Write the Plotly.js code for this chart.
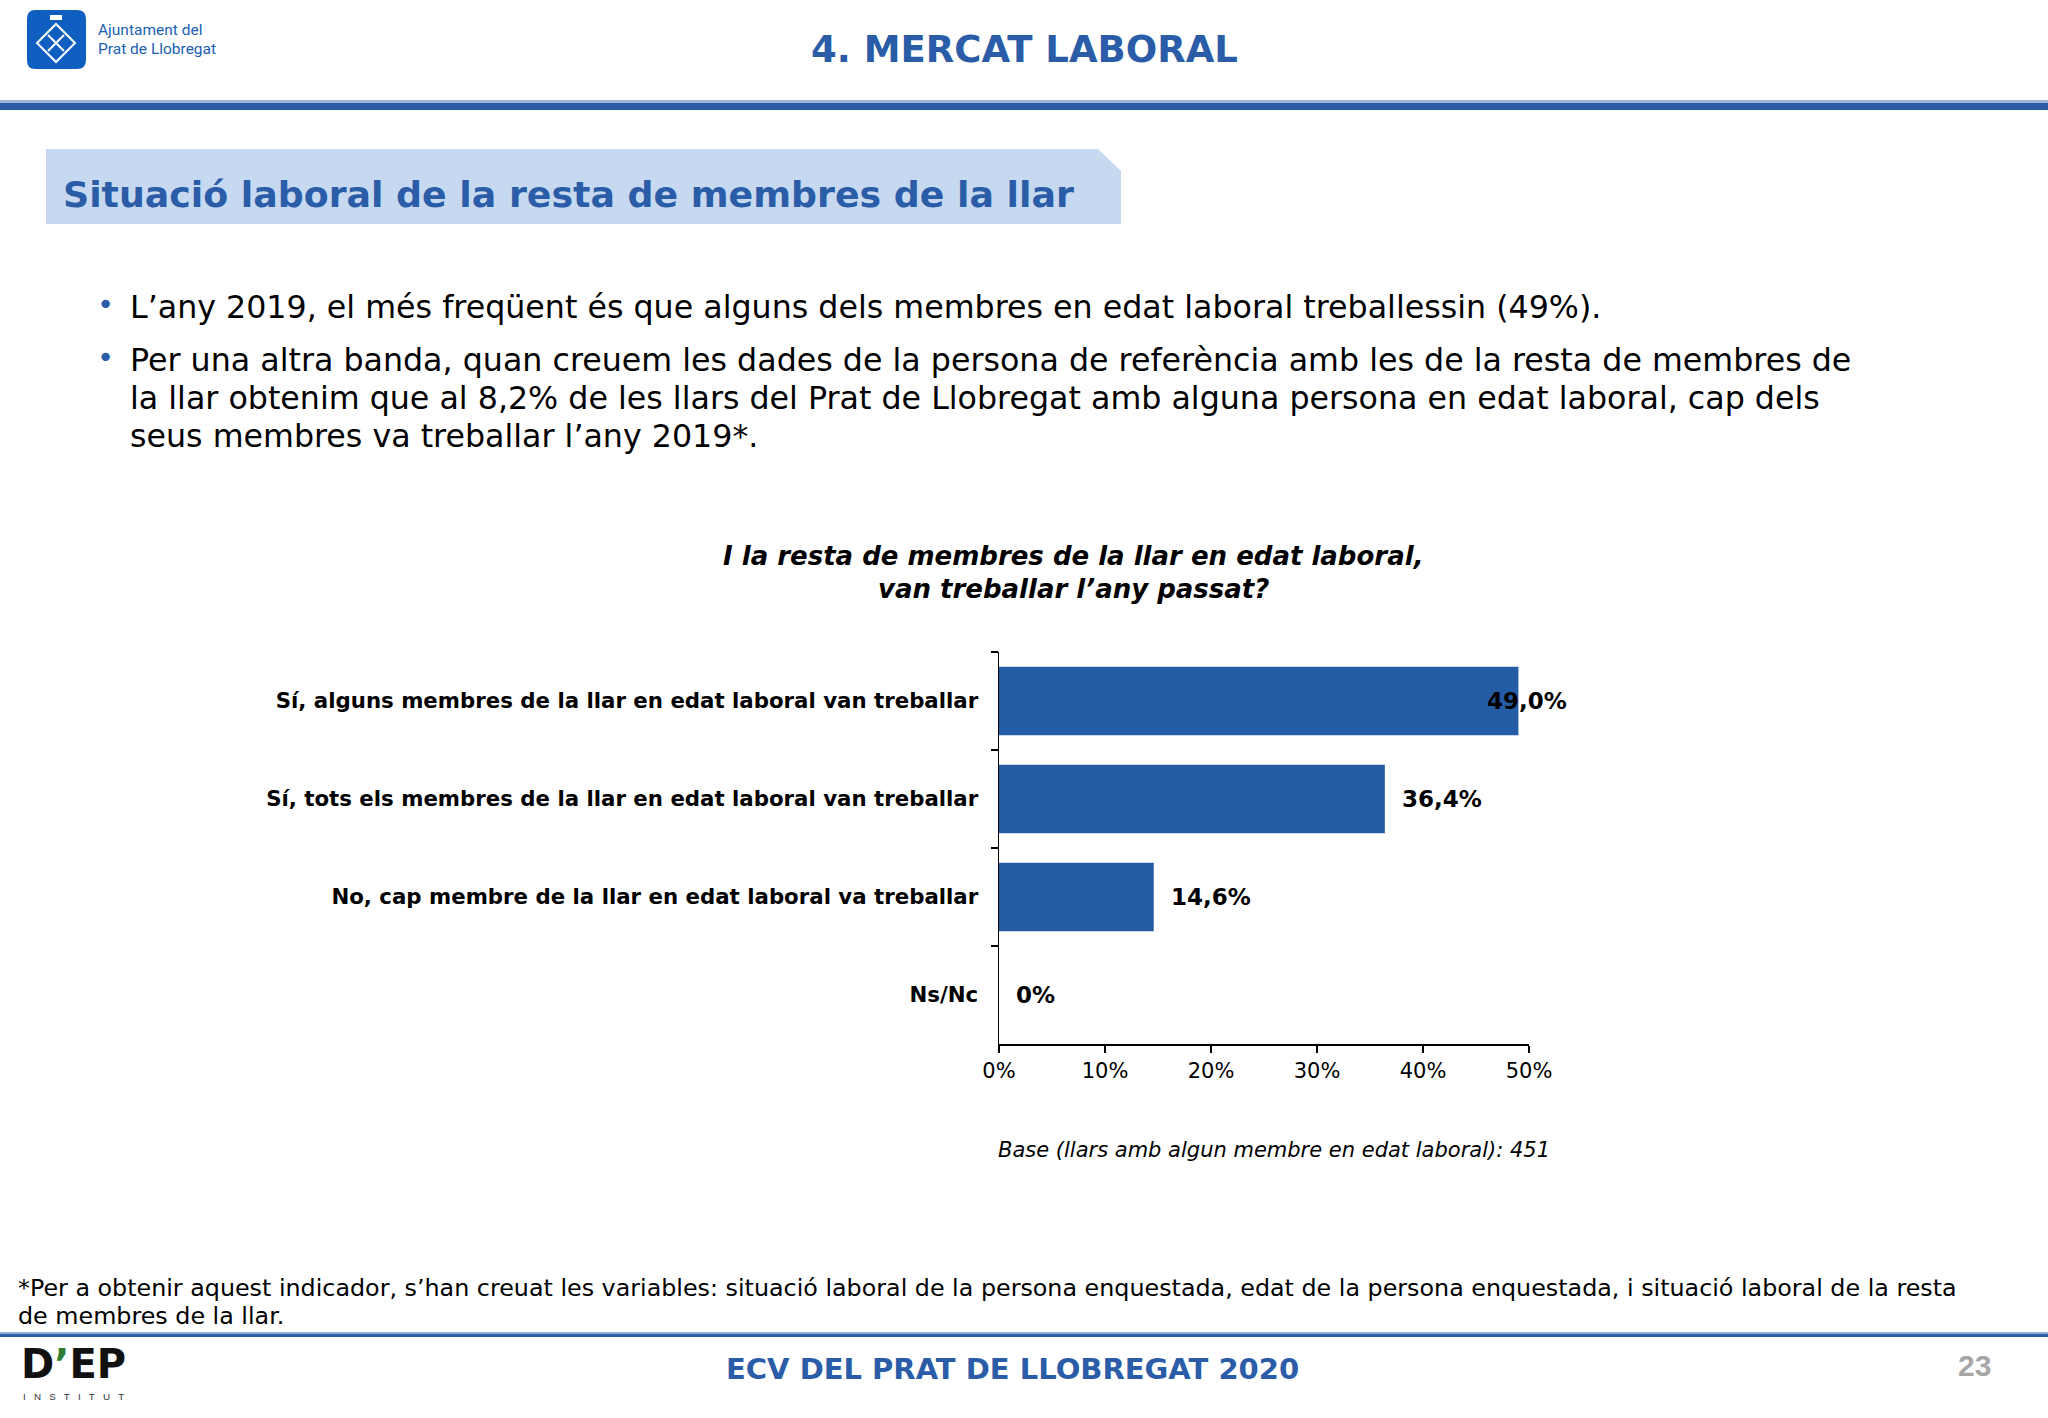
<!DOCTYPE html>
<html><head><meta charset="utf-8">
<script src="https://cdn.plot.ly/plotly-3.0.1.min.js"></script>
<style>html,body{margin:0;padding:0;background:#fff}#chart{width:2048px;height:1418px}</style>
</head><body><div id="chart"></div>
<script>
const categories = [
  "Sí, alguns membres de la llar en edat laboral van treballar",
  "Sí, tots els membres de la llar en edat laboral van treballar",
  "No, cap membre de la llar en edat laboral va treballar",
  "Ns/Nc"
];
const values = [49.0, 36.4, 14.6, 0];
const valueLabels = ["49,0%", "36,4%", "14,6%", "0%"];
const xTicks = [0, 10, 20, 30, 40, 50];
const xTickLabels = ["0%", "10%", "20%", "30%", "40%", "50%"];

const W = 2048, H = 1418;
const px = x => x / W, py = y => 1 - y / H;
const BLUE = '#2a5ca8';
const BAR = '#245ca5';
const FONT = 'DejaVu Sans, Verdana, sans-serif';

const trace = {
  type: 'bar', orientation: 'h',
  y: categories, x: values,
  marker: {color: BAR, line: {width: 0}},
  width: 0.7, hoverinfo: 'none', cliponaxis: false
};

const ann = [];
function txt(x, y, text, size, opts) {
  ann.push(Object.assign({
    xref: 'paper', yref: 'paper', x: px(x), y: py(y), text: text, showarrow: false,
    xanchor: 'left', yanchor: 'middle',
    font: {family: FONT, size: size, color: '#000'}
  }, opts || {}));
}

// header
txt(1024, 50, '4. MERCAT LABORAL', 37, {xanchor: 'center', font: {family: FONT, size: 37, color: BLUE, weight: 'bold'}});
txt(96, 30, 'Ajuntament del', 15.5, {font: {family: 'Liberation Sans Narrow, Roboto, sans-serif', size: 15.5, color: '#1a5fb4'}});
txt(96, 49, 'Prat de Llobregat', 15.5, {font: {family: 'Liberation Sans Narrow, Roboto, sans-serif', size: 15.5, color: '#1a5fb4'}});
// section title
txt(61, 194, 'Situació laboral de la resta de membres de la llar', 36.3, {font: {family: FONT, size: 36.3, color: BLUE, weight: 'bold'}});
// bullets
const bFont = {family: FONT, size: 31.7, color: '#000'};
txt(95, 304, '•', 29, {font: {family: FONT, size: 29, color: BLUE}});
txt(95, 357, '•', 29, {font: {family: FONT, size: 29, color: BLUE}});
txt(128, 307, 'L’any 2019, el més freqüent és que alguns dels membres en edat laboral treballessin (49%).', 31.7, {font: bFont});
txt(128, 360, 'Per una altra banda, quan creuem les dades de la persona de referència amb les de la resta de membres de', 31.7, {font: bFont});
txt(128, 398, 'la llar obtenim que al 8,2% de les llars del Prat de Llobregat amb alguna persona en edat laboral, cap dels', 31.7, {font: bFont});
txt(128, 436, 'seus membres va treballar l’any 2019*.', 31.7, {font: bFont});
// chart title
const tFont = {family: FONT, size: 26, color: '#000', weight: 'bold', style: 'italic'};
txt(1073, 556, 'I la resta de membres de la llar en edat laboral,', 26, {xanchor: 'center', font: tFont});
txt(1073, 589, 'van treballar l’any passat?', 26, {xanchor: 'center', font: tFont});
// base
txt(1552, 1150, 'Base (llars amb algun membre en edat laboral): 451', 21, {xanchor: 'right', font: {family: FONT, size: 21, color: '#000', style: 'italic'}});
// footnote
const fFont = {family: FONT, size: 23.8, color: '#000'};
txt(16, 1288, '*Per a obtenir aquest indicador, s’han creuat les variables: situació laboral de la persona enquestada, edat de la persona enquestada, i situació laboral de la resta', 23.8, {font: fFont});
txt(16, 1316, 'de membres de la llar.', 23.8, {font: fFont});
// footer
txt(1012, 1369, 'ECV DEL PRAT DE LLOBREGAT 2020', 29, {xanchor: 'center', font: {family: FONT, size: 29, color: BLUE, weight: 'bold'}});
txt(1993, 1365, '23', 30, {xanchor: 'right', font: {family: 'Liberation Sans, Arial, sans-serif', size: 30, color: '#a6a6a6', weight: 'bold'}});
txt(19, 1364, 'D<span style="color:#2e7d32">’</span>EP', 40, {font: {family: FONT, size: 40, color: '#111', weight: 'bold'}});
txt(21, 1396, 'I&nbsp;&nbsp;&nbsp;N&nbsp;&nbsp;&nbsp;S&nbsp;&nbsp;&nbsp;T&nbsp;&nbsp;&nbsp;I&nbsp;&nbsp;&nbsp;T&nbsp;&nbsp;&nbsp;U&nbsp;&nbsp;&nbsp;T', 9.8, {font: {family: 'Liberation Sans, Arial, sans-serif', size: 9.8, color: '#333'}});

// data labels
values.forEach((v, i) => {
  ann.push({
    xref: 'x', yref: 'y', x: v, y: categories[i], text: valueLabels[i], showarrow: false,
    xanchor: 'left', yanchor: 'middle', xshift: (i === 0 ? -33 : 15),
    font: {family: FONT, size: 23, color: '#000', weight: 'bold'}
  });
});

const shapes = [
  // header rule
  {type: 'rect', xref: 'paper', yref: 'paper', x0: 0, x1: 1, y0: py(103), y1: py(100), fillcolor: '#9db7dc', line: {width: 0}, layer: 'below'},
  {type: 'rect', xref: 'paper', yref: 'paper', x0: 0, x1: 1, y0: py(110), y1: py(103), fillcolor: BLUE, line: {width: 0}, layer: 'below'},
  // section box with cut corner
  {type: 'path', xref: 'paper', yref: 'paper',
   path: `M ${px(46)} ${py(149)} L ${px(1098)} ${py(149)} L ${px(1121)} ${py(171)} L ${px(1121)} ${py(224)} L ${px(46)} ${py(224)} Z`,
   fillcolor: '#c6d9f1', line: {width: 0}, layer: 'below'},
  // footer rule
  {type: 'rect', xref: 'paper', yref: 'paper', x0: 0, x1: 1, y0: py(1334), y1: py(1332), fillcolor: '#8fb0dc', line: {width: 0}, layer: 'below'},
  {type: 'rect', xref: 'paper', yref: 'paper', x0: 0, x1: 1, y0: py(1337), y1: py(1334), fillcolor: BLUE, line: {width: 0}, layer: 'below'},
  // logo square
  {type: 'path', xref: 'paper', yref: 'paper',
   path: `M ${px(35)} ${py(10)} L ${px(77)} ${py(10)} Q ${px(86)} ${py(10)} ${px(86)} ${py(19)} L ${px(86)} ${py(60)} Q ${px(86)} ${py(69)} ${px(77)} ${py(69)} L ${px(35)} ${py(69)} Q ${px(27)} ${py(69)} ${px(27)} ${py(60)} L ${px(27)} ${py(19)} Q ${px(27)} ${py(10)} ${px(35)} ${py(10)} Z`,
   fillcolor: '#0f5fc0', line: {width: 0}, layer: 'below'},
  {type: 'path', xref: 'paper', yref: 'paper',
   path: `M ${px(56)} ${py(24)} L ${px(75)} ${py(43)} L ${px(56)} ${py(62)} L ${px(37)} ${py(43)} Z`,
   line: {color: '#fff', width: 2}, fillcolor: 'rgba(0,0,0,0)'},
  {type: 'path', xref: 'paper', yref: 'paper',
   path: `M ${px(48)} ${py(51)} L ${px(64)} ${py(35)} M ${px(48)} ${py(35)} L ${px(64)} ${py(51)}`,
   line: {color: '#fff', width: 2}},
  {type: 'rect', xref: 'paper', yref: 'paper', x0: px(50), x1: px(62), y0: py(20), y1: py(15), fillcolor: '#fff', line: {width: 0}}
];

const layout = {
  width: W, height: H,
  margin: {l: 0, r: 0, t: 0, b: 0},
  paper_bgcolor: '#fff', plot_bgcolor: '#fff',
  showlegend: false,
  bargap: 0.3,
  xaxis: {
    domain: [px(999), px(1529)], range: [0, 50], fixedrange: true,
    tickvals: xTicks, ticktext: xTickLabels,
    ticks: 'outside', ticklen: 7, tickwidth: 1.5, tickcolor: '#000',
    showline: true, linecolor: '#000', linewidth: 1.5,
    showgrid: false, zeroline: false,
    tickfont: {family: FONT, size: 21, color: '#000'}
  },
  yaxis: {
    domain: [py(1044), py(652)], type: 'category',
    categoryorder: 'array', categoryarray: categories,
    range: [3.5, -0.5], fixedrange: true,
    ticks: 'outside', tickson: 'boundaries', ticklen: 7, tickwidth: 1.5, tickcolor: '#000',
    showline: true, linecolor: '#000', linewidth: 1.5,
    showgrid: false, zeroline: false,
    ticklabelstandoff: 15,
    tickfont: {family: FONT, size: 21.3, color: '#000', weight: 'bold'}
  },
  annotations: ann,
  shapes: shapes
};

Plotly.newPlot('chart', [trace], layout, {staticPlot: true, displayModeBar: false});
</script></body></html>
